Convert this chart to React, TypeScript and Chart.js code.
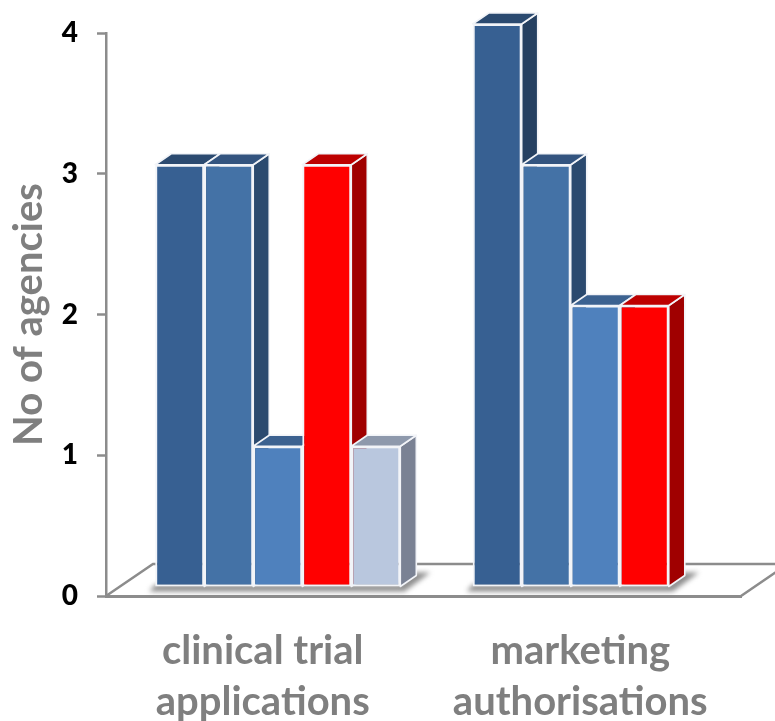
import React, { useEffect, useRef } from "react";
import { Chart, registerables } from "chart.js";

Chart.register(...registerables);

const categories = [["clinical trial", "applications"], ["marketing", "authorisations"]];
const seriesA = [3, 4];
const seriesB = [3, 3];
const seriesC = [1, 2];
const seriesD = [3, 2];
const seriesE = [1, null];
const yTicks = [0, 1, 2, 3, 4];

const fronts = ["#376092", "#4472A6", "#4F81BD", "#FF0000", "#B9C7DE"];
const tops = ["#2B4A70", "#33547F", "#3C6290", "#BD0000", "#8E99AC"];
const sides = ["#254061", "#2B4A6F", "#2F4F78", "#A00000", "#7A8294"];

const FONT = "Lato";
const AXIS_GREY = "#8C8C8C";
const TEXT_GREY = "#7F7F7F";
const DEPTH_X = 16;
const DEPTH_Y = 11;
const LIFT_X = 13;
const LIFT_Y = -9;

function polygon(ctx: CanvasRenderingContext2D, pts: number[][]) {
  ctx.beginPath();
  pts.forEach(([x, y], i) => (i ? ctx.lineTo(x, y) : ctx.moveTo(x, y)));
  ctx.closePath();
}

function drawFloor(chart: any) {
  const { ctx, chartArea: a } = chart;
  const back = a.bottom - 32;
  ctx.save();
  ctx.strokeStyle = AXIS_GREY;
  ctx.lineWidth = 2.5;
  ctx.beginPath();
  ctx.moveTo(a.left, a.bottom);
  ctx.lineTo(a.left + 47, back);
  ctx.lineTo(chart.width + 10, back);
  ctx.moveTo(a.right, a.bottom);
  ctx.lineTo(a.right + 47, back);
  ctx.stroke();
  ctx.restore();
}

// Soft shadow cast on the floor, from the group's left edge to past its right side face.
function drawShadow(chart: any, leftBar: any, rightBar: any) {
  const { ctx } = chart;
  const x0 = leftBar.x - leftBar.width / 2 + LIFT_X;
  const x1 = rightBar.x + rightBar.width / 2 + LIFT_X;
  const y = leftBar.base + LIFT_Y;
  ctx.save();
  ctx.filter = "blur(2.5px)";
  ctx.fillStyle = "#8E8E8E";
  polygon(ctx, [
    [x0 - 6, y + 5],
    [x1 + 4, y + 5],
    [x1 + 30, y - 14],
    [x1 + 12, y - 14],
    [x1, y - 2],
    [x0, y - 2],
  ]);
  ctx.fill();
  ctx.restore();
}

function drawDepth(chart: any, i: number) {
  const { ctx } = chart;
  chart.getDatasetMeta(i).data.forEach((bar: any, j: number) => {
    if (chart.data.datasets[i].data[j] == null) return;
    const { x, y, base, width } = bar.getProps(["x", "y", "base", "width"], true);
    const l = x - width / 2;
    const r = x + width / 2;
    ctx.save();
    ctx.strokeStyle = "#F2F4F8";
    ctx.lineWidth = 1.6;
    ctx.lineJoin = "round";
    ctx.fillStyle = sides[i];
    polygon(ctx, [
      [r, y],
      [r + DEPTH_X, y - DEPTH_Y],
      [r + DEPTH_X, base - DEPTH_Y],
      [r, base],
    ]);
    ctx.fill();
    ctx.stroke();
    ctx.fillStyle = tops[i];
    polygon(ctx, [
      [l, y],
      [l + DEPTH_X, y - DEPTH_Y],
      [r + DEPTH_X, y - DEPTH_Y],
      [r, y],
    ]);
    ctx.fill();
    ctx.stroke();
    ctx.restore();
  });
}

// Takes over dataset painting: series go left to right so each front covers its neighbour's side face.
const prismPlugin = {
  id: "prism",
  beforeDatasetsDraw(chart: any) {
    const { ctx } = chart;
    const count = chart.data.datasets.length;
    drawFloor(chart);
    const first = chart.getDatasetMeta(0).data;
    drawShadow(chart, first[0], chart.getDatasetMeta(4).data[0]);
    drawShadow(chart, first[1], chart.getDatasetMeta(3).data[1]);
    ctx.save();
    ctx.translate(LIFT_X, LIFT_Y);
    for (let i = 0; i < count; i++) {
      chart.getDatasetMeta(i).controller.draw();
      drawDepth(chart, i);
    }
    ctx.restore();
    return false;
  },
};

export default function App() {
  const ref = useRef<HTMLCanvasElement>(null);

  useEffect(() => {
    document.body.style.margin = "0";
    const seriesList = [seriesA, seriesB, seriesC, seriesD, seriesE];
    const chart = new Chart(ref.current!, {
      type: "bar",
      plugins: [prismPlugin],
      data: {
        labels: categories,
        datasets: seriesList.map((data, i) => ({
          data,
          backgroundColor: fronts[i],
          borderColor: "#F2F4F8",
          borderWidth: 2,
          borderSkipped: false,
          categoryPercentage: 0.772,
          barPercentage: 1,
        })),
      } as any,
      options: {
        responsive: false,
        animation: false,
        layout: { padding: { top: 33, right: 34, left: 0, bottom: 0 } },
        plugins: { legend: { display: false }, tooltip: { enabled: false } },
        scales: {
          x: {
            grid: { display: false },
            border: { color: AXIS_GREY, width: 3 },
            afterFit: (s: any) => { s.height = 125; },
            ticks: {
              maxRotation: 0,
              autoSkip: false,
              padding: 22,
              labelOffset: -2,
              color: TEXT_GREY,
              font: { family: FONT, weight: "bold", size: 40, lineHeight: 1.275 },
            },
          },
          y: {
            min: 0,
            max: 4,
            afterFit: (s: any) => {
              s.width = 106;
              s.paddingTop = 0;
              s.paddingBottom = 0;
            },
            afterBuildTicks: (s: any) => { s.ticks = yTicks.map((value) => ({ value })); },
            border: { color: AXIS_GREY, width: 2.5 },
            grid: { drawOnChartArea: false, tickLength: 9, tickColor: AXIS_GREY, tickWidth: 2.5 },
            ticks: {
              padding: 19,
              color: "#000000",
              font: { family: FONT, weight: "900", size: 28 },
            },
            title: {
              display: true,
              text: "No of agencies",
              color: TEXT_GREY,
              padding: { top: 5, bottom: 0 },
              font: { family: FONT, weight: "bold", size: 40 },
            },
          },
        },
      },
    } as any);
    return () => chart.destroy();
  }, []);

  return <canvas ref={ref} width={775} height={721} style={{ display: "block" }} />;
}
